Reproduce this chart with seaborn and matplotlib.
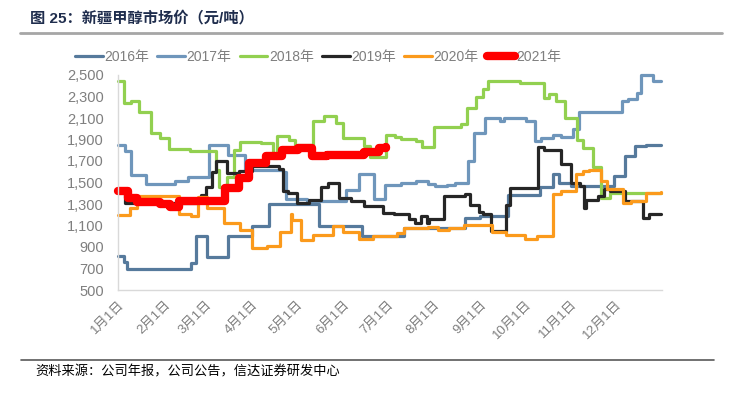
import matplotlib
matplotlib.use("Agg")
import matplotlib.pyplot as plt
import pandas as pd
import seaborn as sns
from matplotlib.lines import Line2D

# ---- data (date breakpoints, price in yuan/ton) ----
years = ['2016年', '2017年', '2018年', '2019年', '2020年', '2021年']
colors = ['#567a9c', '#6f96bb', '#92d050', '#262626', '#fb9a1c', '#ff0000']
widths = [2.3, 2.3, 2.3, 2.3, 2.3, 6.0]

d2016 = ['01-01', '01-05', '01-07', '02-19', '02-22', '03-02', '03-16', '04-01', '04-12', '05-16',
         '06-14', '07-12', '08-22', '09-01', '09-20', '10-11', '10-20', '10-24', '11-01', '11-30',
         '12-07', '12-14', '12-21', '12-31']
p2016 = [820, 760, 700, 750, 1000, 810, 1000, 1100, 1300, 1100,
         1000, 1080, 1170, 1190, 1380, 1460, 1580, 1500, 1470, 1560,
         1750, 1840, 1850, 1850]

d2017 = ['01-01', '01-06', '01-10', '01-20', '02-08', '02-17', '03-03', '03-16', '03-27', '04-22',
         '04-24', '05-08', '06-03', '06-12', '06-22', '06-29', '07-10', '07-20', '07-28', '08-02',
         '08-10', '08-15', '08-24', '08-28', '09-04', '09-14', '09-17', '10-02', '10-08', '10-12',
         '10-20', '10-25', '11-02', '11-06', '12-05', '12-09', '12-15', '12-18', '12-26', '12-31']
p2017 = [1850, 1790, 1570, 1490, 1510, 1550, 1850, 1760, 1620, 1600,
         1350, 1330, 1430, 1580, 1350, 1480, 1500, 1510, 1490, 1470,
         1480, 1500, 1700, 1960, 2100, 2070, 2100, 2070, 1890, 1910,
         1940, 1920, 2000, 2160, 2260, 2280, 2330, 2500, 2440, 2440]

d2018 = ['01-01', '01-05', '01-10', '01-15', '01-23', '01-29', '02-04', '02-18', '03-08', '03-10',
         '03-15', '03-20', '03-24', '04-07', '04-15', '04-18', '04-26', '04-30', '05-12', '05-19',
         '05-27', '06-01', '06-15', '06-19', '06-30', '07-06', '07-10', '07-20', '07-24', '08-01',
         '08-19', '08-23', '08-29', '09-03', '09-06', '09-28', '10-14', '10-17', '10-22', '10-28',
         '11-05', '11-09', '11-16', '11-21', '11-27', '12-31']
p2018 = [2440, 2240, 2260, 2160, 1960, 1910, 1810, 1795, 1620, 1460,
         1550, 1800, 1880, 1865, 1730, 1930, 1895, 1850, 2070, 2115,
         2055, 1915, 1840, 1740, 1940, 1920, 1905, 1885, 1830, 2015,
         2040, 2190, 2300, 2370, 2445, 2425, 2285, 2320, 2260, 2100,
         1900, 1820, 1640, 1360, 1400, 1400]

d2019 = ['01-01', '01-06', '02-24', '02-26', '03-01', '03-05', '03-08', '03-15', '03-23', '04-01',
         '04-19', '04-22', '04-25', '05-01', '05-09', '05-17', '05-22', '05-29', '06-06', '06-15',
         '06-28', '07-05', '07-15', '07-19', '07-23', '07-27', '07-29', '08-08', '08-22', '08-25',
         '08-31', '09-03', '09-08', '09-18', '09-21', '10-10', '10-14', '10-25', '11-01', '11-07',
         '11-10', '11-11', '11-19', '11-23', '11-27', '12-07', '12-19', '12-23', '12-31']
p2019 = [1420, 1310, 1330, 1380, 1460, 1600, 1700, 1590, 1610, 1650,
         1630, 1420, 1400, 1310, 1340, 1460, 1500, 1360, 1330, 1280,
         1220, 1210, 1160, 1120, 1190, 1120, 1160, 1370, 1390, 1290,
         1230, 1210, 1050, 1290, 1450, 1830, 1800, 1670, 1500, 1470,
         1260, 1340, 1370, 1440, 1420, 1330, 1170, 1210, 1210]

d2020 = ['01-01', '01-09', '01-14', '02-11', '02-19', '02-24', '03-02', '03-13', '03-24', '04-01',
         '04-11', '04-20', '04-27', '04-28', '05-04', '05-12', '05-25', '06-01', '06-12', '06-21',
         '07-07', '07-12', '07-28', '08-04', '08-11', '08-21', '09-09', '09-18', '10-01', '10-09',
         '10-20', '10-25', '11-04', '11-09', '11-13', '11-21', '11-25', '12-06', '12-11', '12-21',
         '12-31']
p2020 = [1200, 1260, 1375, 1210, 1190, 1365, 1265, 1125, 1060, 890,
         905, 1040, 1210, 1150, 965, 1010, 1095, 1040, 975, 1000,
         1030, 1075, 1090, 1060, 1080, 1105, 1040, 1015, 975, 1000,
         1395, 1420, 1580, 1605, 1620, 1515, 1435, 1310, 1330, 1400,
         1410]

d2021 = ['01-01', '01-08', '01-14', '01-29', '02-05', '02-11', '03-14', '03-23', '03-30', '04-10',
         '04-21', '05-02', '05-11', '05-21', '06-15', '06-25', '06-30']
p2021 = [1420, 1360, 1320, 1300, 1275, 1330, 1450, 1540, 1680, 1745,
         1805, 1820, 1745, 1758, 1783, 1820, 1830]

month_labels = [f'{m}月1日' for m in range(1, 13)]
yticks = list(range(500, 2501, 200))

series = [(d2016, p2016), (d2017, p2017), (d2018, p2018),
          (d2019, p2019), (d2020, p2020), (d2021, p2021)]


def to_day(md):
    # day of year, Jan 1 -> 0 (non-leap calendar)
    return (pd.to_datetime(['2021-' + s for s in md]).dayofyear - 1).tolist()


sns.set_style('white')
plt.rcParams['font.family'] = ['Liberation Sans', 'Noto Sans CJK SC', 'DejaVu Sans']

fig = plt.figure(figsize=(7.31, 3.97), dpi=100)
ax = fig.add_axes([118 / 731, 1 - 290 / 397, 544 / 731, 215 / 397])

handles = []
for yr, (d, p), c, w in zip(years, series, colors, widths):
    df = pd.DataFrame({'day': to_day(d), 'price': p})
    sns.lineplot(data=df, x='day', y='price', ax=ax, color=c, linewidth=w,
                 drawstyle='steps-post', estimator=None, sort=False,
                 solid_capstyle='round', solid_joinstyle='round', clip_on=False)
    handles.append(Line2D([], [], color=c, lw=w, solid_capstyle='round'))

# axes styling
month_starts = to_day([f'{m:02d}-01' for m in range(1, 13)])
ax.set_xticks(month_starts + [365], month_labels + [''])
ax.set_xlim(0, 365)
ax.set_ylim(500, 2500)
ax.set_yticks(yticks, [f'{v:,}' for v in yticks])
ax.set_xlabel('')
ax.set_ylabel('')
for s in ['top', 'right']:
    ax.spines[s].set_visible(False)
for s in ['left', 'bottom']:
    ax.spines[s].set_color('#d9d9d9')
    ax.spines[s].set_linewidth(1.0)
ax.tick_params(axis='x', direction='in', length=4, color='#d9d9d9',
               labelsize=9.5, labelcolor='#7f7f7f', pad=6)
ax.tick_params(axis='y', length=0, labelsize=10.5, labelcolor='#7f7f7f', pad=10)
for lab in ax.get_xticklabels():
    lab.set_rotation(45)
    lab.set_ha('right')
    lab.set_rotation_mode('anchor')

fig.legend(handles, years, loc='center', bbox_to_anchor=(318 / 731, 1 - 57 / 397),
           ncol=6, frameon=False, fontsize=10, handlelength=2.0,
           handletextpad=0.1, columnspacing=0.6, labelcolor='#7f7f7f')

# title, rule lines and source note
fig.text(30 / 731, 1 - 18 / 397, '图 25：新疆甲醇市场价（元/吨）', fontsize=11,
         fontweight='bold', color='#1f2d4d', va='center', ha='left')
fig.add_artist(Line2D([20 / 731, 722 / 731], [1 - 33 / 397] * 2, color='#a6a6a6', lw=2))
fig.add_artist(Line2D([21 / 731, 714 / 731], [1 - 360 / 397] * 2, color='#595959', lw=1.2))
fig.text(35 / 731, 1 - 372 / 397, '资料来源：公司年报，公司公告，信达证券研发中心',
         fontsize=9.5, color='#000000', va='center', ha='left')

fig.savefig('out.png', dpi=100)
plt.close()
